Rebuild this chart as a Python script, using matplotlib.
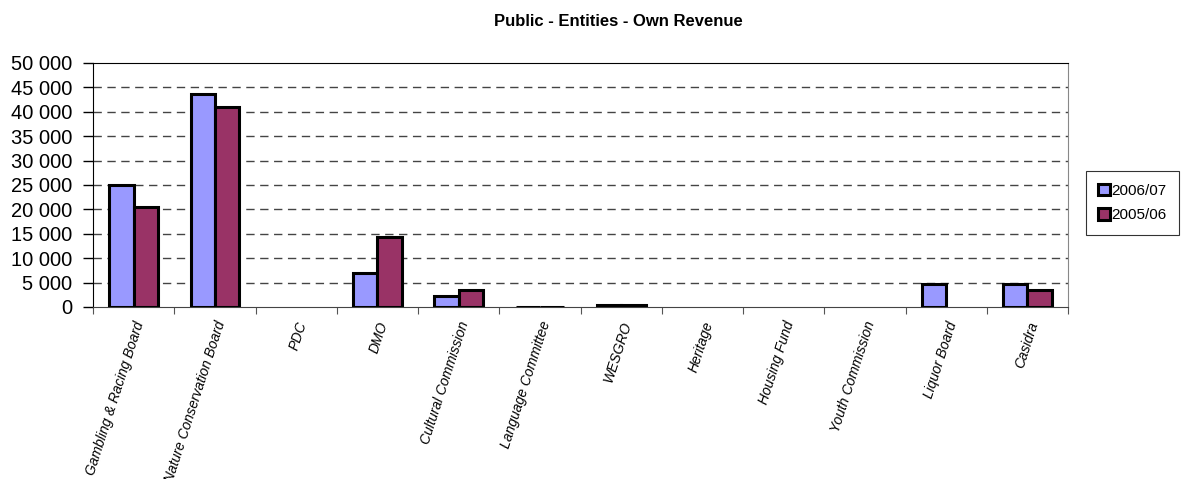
import numpy as np
import matplotlib.pyplot as plt
from matplotlib.ticker import FuncFormatter

plt.rcParams['font.family'] = ['Liberation Sans', 'DejaVu Sans']

entities = ['Gambling & Racing Board', 'Nature Conservation Board', 'PDC', 'DMO',
            'Cultural Commission', 'Language Committee', 'WESGRO', 'Heritage',
            'Housing Fund', 'Youth Commission', 'Liquor Board', 'Casidra']
rev_2006 = [25000, 43700, 0, 7000, 2300, 100, 500, 0, 0, 0, 4800, 4700]
rev_2005 = [20400, 41000, 0, 14400, 3500, 100, 500, 0, 0, 0, 0, 3500]
series_names = ['2006/07', '2005/06']
colors = ['#9999ff', '#993366']

fig = plt.figure(figsize=(11.86, 4.79), dpi=100)
ax = fig.add_axes([93 / 1186, 1 - 307 / 479, 975 / 1186, 244 / 479])

x = np.arange(len(entities))
w = 0.3
handles = []
for i, (vals, off) in enumerate([(rev_2006, -w / 2), (rev_2005, w / 2)]):
    bars = ax.bar(x + off, vals, w, color=colors[i], edgecolor='black', linewidth=2.2,
                  label=series_names[i], zorder=3)
    # empty entries show no outline
    for b, v in zip(bars, vals):
        if v == 0:
            b.set_visible(False)
    handles.append(bars)

ax.set_xlim(-0.5, len(entities) - 0.5)
ax.set_ylim(0, 50000)
ax.set_yticks(np.arange(0, 50001, 5000))
ax.yaxis.set_major_formatter(FuncFormatter(lambda v, p: f'{int(v):,}'.replace(',', ' ')))
ax.tick_params(axis='y', labelsize=14.5, length=7, direction='out', width=1, pad=8)

ax.set_xticks(np.arange(-0.5, len(entities), 1))
ax.set_xticklabels([])
ax.set_xticks(x, minor=True)
ax.set_xticklabels(entities, minor=True, rotation=72, ha='right', va='top',
                   rotation_mode='anchor', fontsize=10, style='italic')
ax.tick_params(axis='x', which='major', length=5, direction='out', color='#555555')
ax.tick_params(axis='x', which='minor', length=0, pad=9)

for y in range(5000, 50000, 5000):
    ax.axhline(y, color='#444444', linestyle=(0, (6, 4)), linewidth=1, zorder=1)

ax.spines['top'].set_color('black')
ax.spines['right'].set_color('#888888')
ax.spines['left'].set_color('black')
ax.spines['bottom'].set_color('#444444')

fig.suptitle('Public - Entities - Own Revenue', x=618 / 1186, y=1 - 22 / 479,
             fontsize=12, fontweight='bold', va='center')

leg = fig.legend(handles=handles, loc='center left',
                 bbox_to_anchor=(1086 / 1186, 1 - 203 / 479),
                 fontsize=11, frameon=True, fancybox=False, edgecolor='black',
                 handlelength=0.75, handleheight=0.75, handletextpad=0.1,
                 borderpad=0.8, labelspacing=0.7, borderaxespad=0)
leg.get_frame().set_linewidth(0.8)

fig.savefig('out.png', dpi=100)
